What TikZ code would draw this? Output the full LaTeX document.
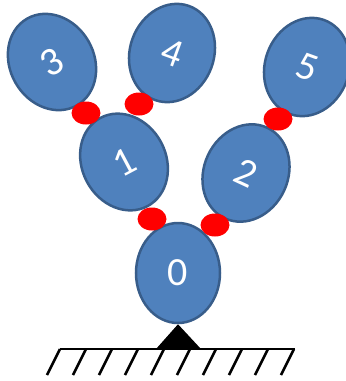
\documentclass[tikz,border=0pt]{standalone}
\usepackage{fontspec}
\newfontfamily\linkfont{Carlito}
\usetikzlibrary{shapes.geometric}
\definecolor{linkblue}{HTML}{4F81BD}
\definecolor{linkedge}{HTML}{385D8A}
\tikzstyle{link}=[
	ellipse,
	line width=2.5pt,
	draw=linkedge,
	fill=linkblue,
	text=white,
	inner sep=0pt,
	minimum width=84pt,
	minimum height=100pt,
	font=\linkfont\fontsize{40}{42}\selectfont
]
\tikzstyle{joint}=[
	ellipse,
	fill=red,
	inner sep=0pt,
	minimum width=29pt,
	minimum height=23pt
]
\tikzstyle{ground}=[
	line width=2.5pt,
	black
]

\begin{document}
\begin{tikzpicture}[x=1pt,y=-1pt]
\useasboundingbox (0,0) rectangle (346,381);
% links
\node [link] (Link0) at (178,273) {0};
\node [link, rotate=28] (Link1) at (124,162) {1};
\node [link, rotate=-25] (Link2) at (246,173) {2};
\node [link, rotate=30] (Link3) at (52,62) {3};
\node [link, rotate=-20] (Link4) at (172,53) {4};
\node [link, rotate=-20] (Link5) at (307,67) {5};
% joints
\node [joint] (Joint31) at (86,113) {};
\node [joint] (Joint41) at (139,104) {};
\node [joint] (Joint52) at (278,119) {};
\node [joint] (Joint10) at (152,219) {};
\node [joint] (Joint20) at (215,225) {};
% base
\coordinate (BaseLeft) at (156,349);
\coordinate (BaseRight) at (201,349);
\fill [black] (Link0.south) -- (BaseLeft) -- (BaseRight) -- cycle;
\draw [ground] (60,349) -- (295,349);
\foreach \i in {0,...,9}
	\draw [ground] (60+26*\i,349) -- ++(-13,26);
\end{tikzpicture}
\end{document}
